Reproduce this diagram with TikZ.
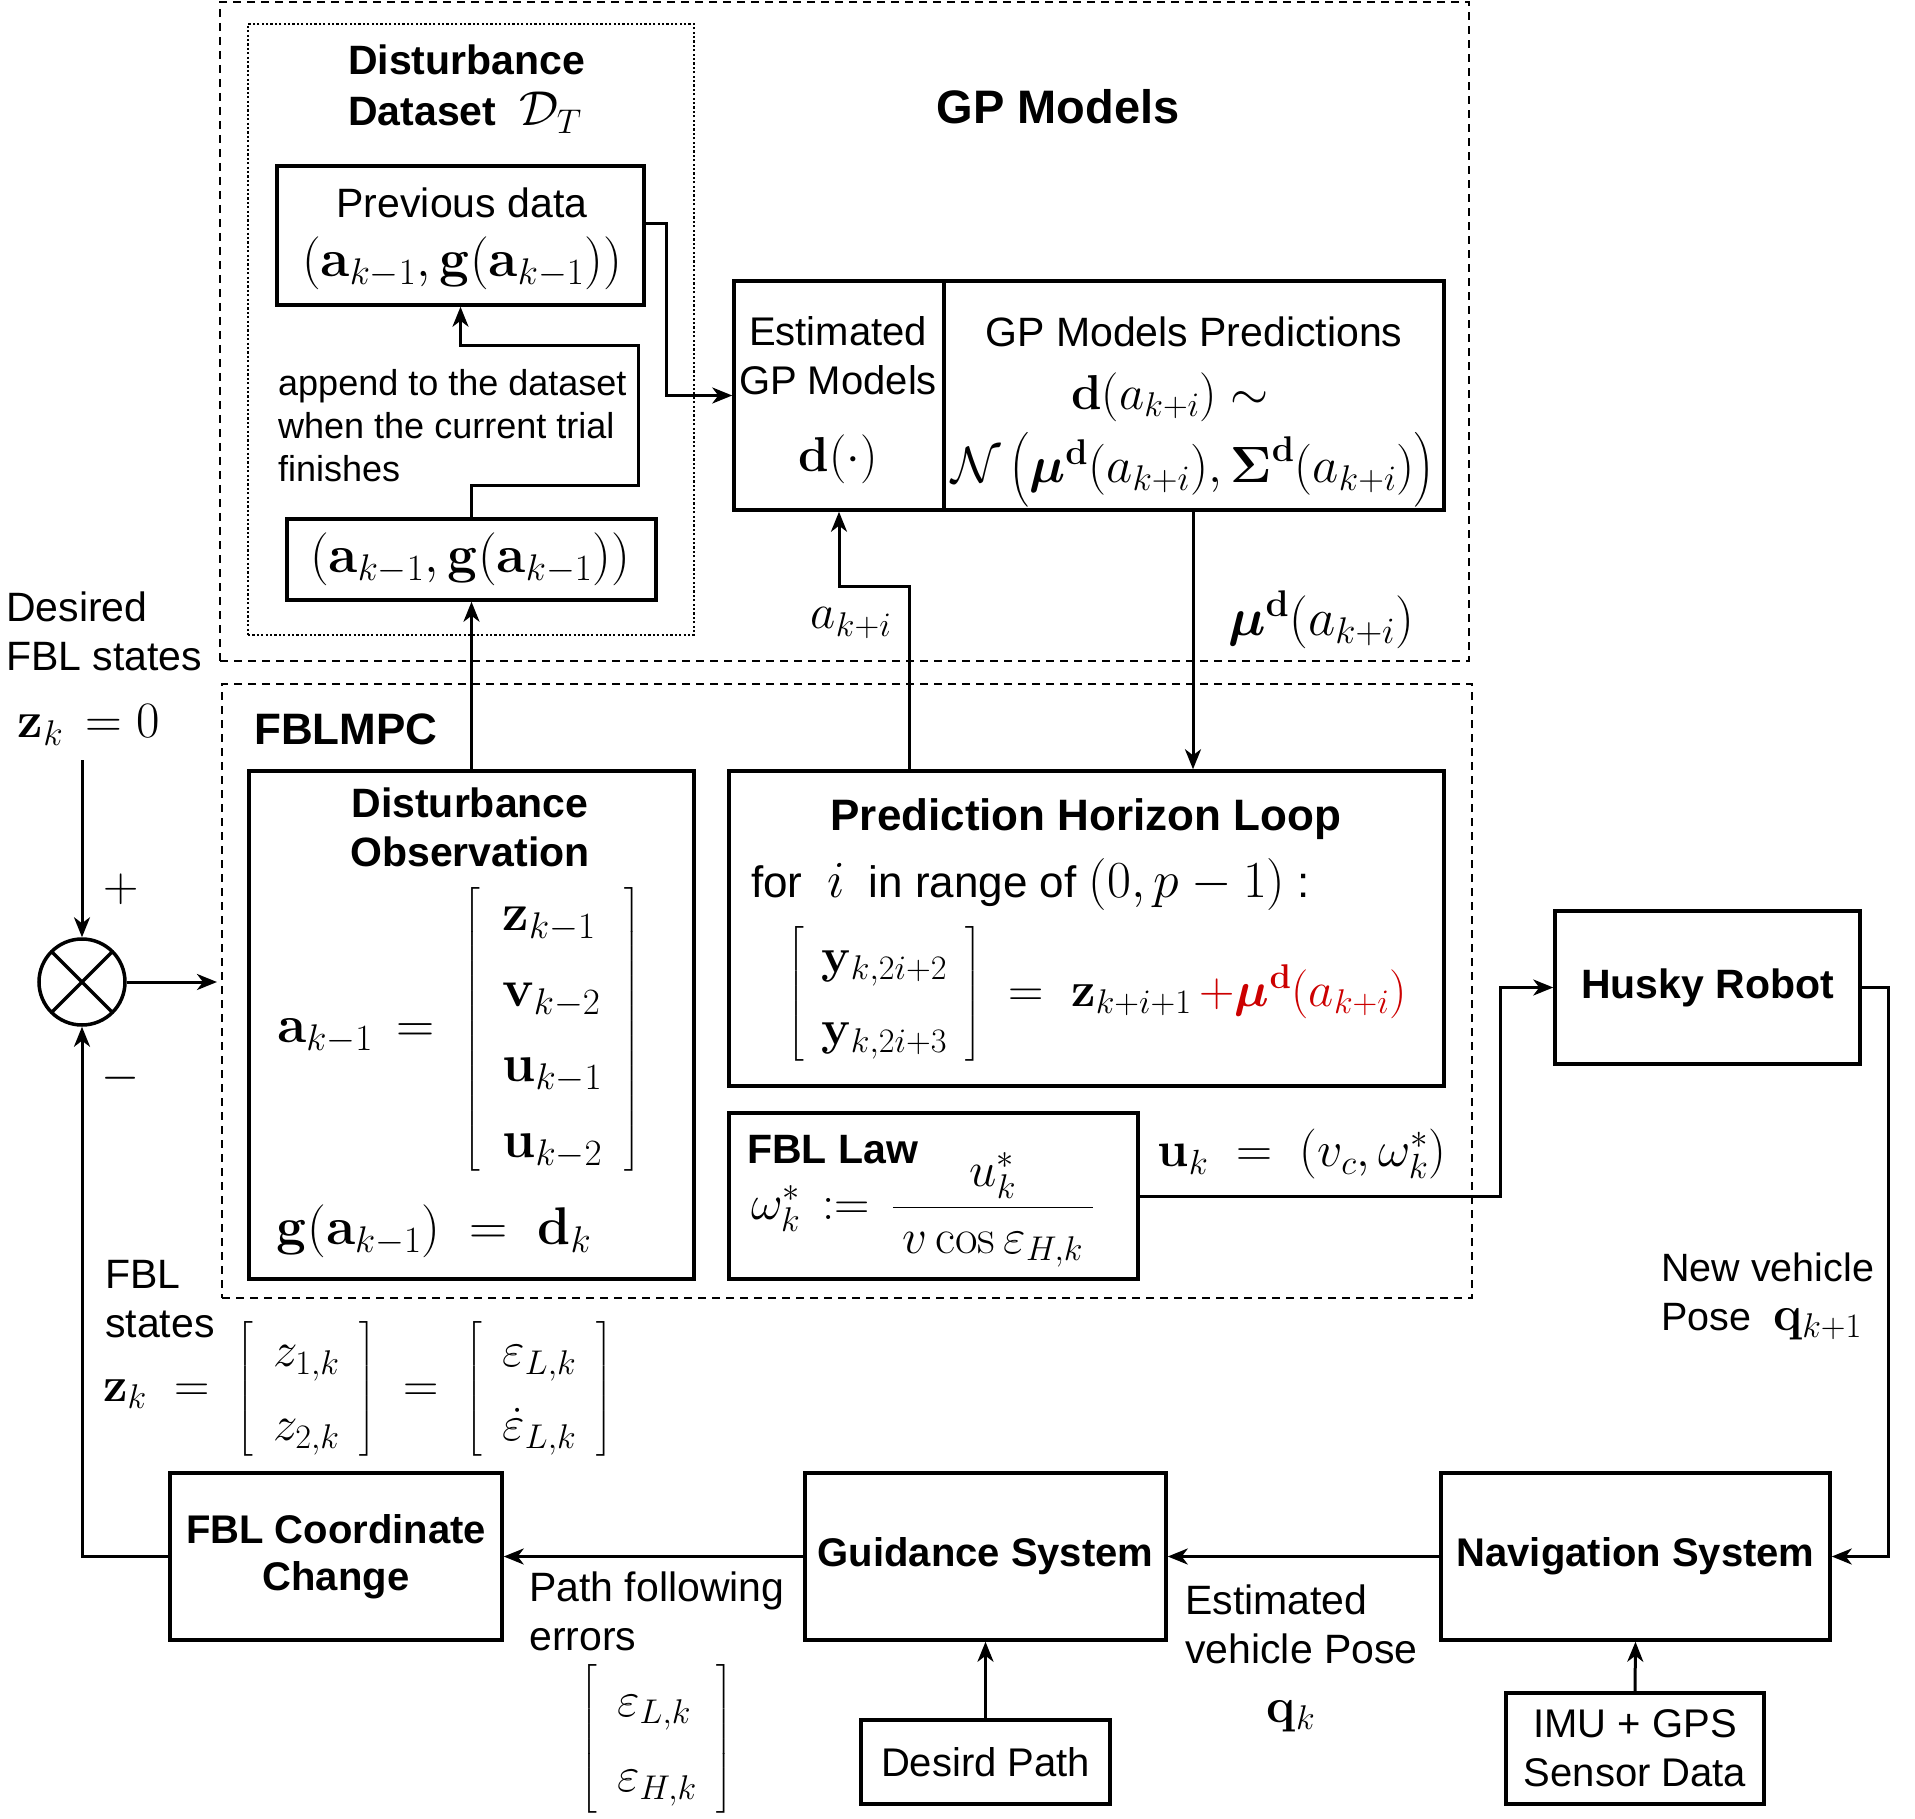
\RequirePackage{fix-cm}
\documentclass[tikz,border=0pt]{standalone}
\usepackage{amsmath}
\usepackage[no-math]{fontspec}
\setmainfont{Liberation Sans}
\usetikzlibrary{arrows.meta}
\definecolor{predred}{RGB}{204,0,0}
\newcommand{\mth}[1]{{\fontsize{49}{58}\selectfont$#1$}}
\newcommand{\mthb}[1]{{\fontsize{52}{62}\selectfont$#1$}}
\begin{document}
\begin{tikzpicture}[x=1pt,y=-1pt,
 bx/.style={draw,line width=3.5pt,inner sep=0pt},
 t41/.style={inner sep=0pt,font=\fontsize{41}{49}\selectfont},
 t40/.style={inner sep=0pt,font=\fontsize{40}{49}\selectfont},
 t39/.style={inner sep=0pt,font=\fontsize{39.5}{49}\selectfont},
 t44/.style={inner sep=0pt,font=\fontsize{44}{52}\selectfont},
 t36/.style={inner sep=0pt,font=\fontsize{36}{43}\selectfont},
 b41/.style={inner sep=0pt,font=\fontsize{41}{49}\selectfont\bfseries},
 b40/.style={inner sep=0pt,font=\fontsize{40}{47}\selectfont\bfseries},
 b44/.style={inner sep=0pt,font=\fontsize{44}{52}\selectfont\bfseries},
 b47/.style={inner sep=0pt,font=\fontsize{47}{56}\selectfont\bfseries},
 m49/.style={inner sep=0pt,font=\fontsize{49}{58}\selectfont},
 m50/.style={inner sep=0pt,font=\fontsize{50}{59}\selectfont},
 m51/.style={inner sep=0pt,font=\fontsize{51}{60}\selectfont},
 m53/.style={inner sep=0pt,font=\fontsize{53}{62}\selectfont},
 dashedbox/.style={draw,line width=2.2pt,dash pattern=on 8pt off 6pt,inner sep=0pt},
 dottedbox/.style={draw,line width=2.2pt,dash pattern=on 2.2pt off 2.2pt,inner sep=0pt},
 ln/.style={line width=3pt},
 arr/.style={-{Stealth[length=20pt,width=16pt,inset=6pt]}},
]
\useasboundingbox (0,0) rectangle (1915,1819);

% group frames
\node[dashedbox,minimum width=1249pt,minimum height=659pt] (gpgrp) at (844.5,331.5) {};
\node[dottedbox,minimum width=446pt,minimum height=611pt] (dsgrp) at (471,329.5) {};
\node[dashedbox,minimum width=1250pt,minimum height=614pt] (mpcgrp) at (847,991) {};

% titles
\node[b41,anchor=base west] (dsttl1) at (348,75) {Disturbance};
\node[b41,anchor=base west] (dsttl2) at (348,126) {Dataset\ \ \mth{\mathcal{D}_T}};
\node[b47] (gpttl) at (1058,107) {GP Models};
\node[b44,anchor=west] (mpcttl) at (254,729) {FBLMPC};

% dataset boxes
\node[bx,minimum width=367pt,minimum height=139pt] (prev) at (460.5,235.5) {};
\node[t41] (prevt) at (462,203) {Previous data};
\node[m53] (prevm) at (462,263) {$(\mathbf{a}_{k-1},\mathbf{g}(\mathbf{a}_{k-1}))$};
\node[bx,minimum width=369pt,minimum height=81pt] (dat2) at (471.5,559.5) {};
\node[m53] (dat2m) at (470,559) {$(\mathbf{a}_{k-1},\mathbf{g}(\mathbf{a}_{k-1}))$};
\node[t36,align=left,anchor=west] (appendt) at (278,426) {append to the dataset\\when the current trial\\finishes};

% GP model boxes
\node[bx,minimum width=210pt,minimum height=229pt] (est) at (839,395.5) {};
\node[t40,align=center] (estt) at (838,356) {Estimated\\GP Models};
\node[m49] (estm) at (838,459) {$\mathbf{d}(\cdot)$};
\node[bx,minimum width=500pt,minimum height=229pt] (pred) at (1194,395.5) {};
\node[t41] (predt) at (1194,332) {GP Models Predictions};
\node[m49] (predm1) at (1170,397) {$\mathbf{d}(a_{k+i})\sim$};
\node[m51] (predm2) at (1193,470) {$\mathcal{N}\left(\boldsymbol{\mu}^{\mathbf{d}}(a_{k+i}),\boldsymbol{\Sigma}^{\mathbf{d}}(a_{k+i})\right)$};

% labels between groups
\node[m49] (aki) at (851,623) {$a_{k+i}$};
\node[m53] (mul) at (1321,620) {$\boldsymbol{\mu}^{\mathbf{d}}(a_{k+i})$};

% Disturbance observation
\node[bx,minimum width=445pt,minimum height=508pt] (dobs) at (471.5,1025) {};
\node[b41,align=center] (dobst) at (470,827) {Disturbance\\Observation};
\node[m53] (dobsm) at (459,1029) {\setlength\arraycolsep{22pt}\setlength\delimitershortfall{40pt}\renewcommand{\arraystretch}{1.22}$\mathbf{a}_{k-1}\,=\;\left[\begin{array}{l}\mathbf{z}_{k-1}\\ \mathbf{v}_{k-2}\\ \mathbf{u}_{k-1}\\ \mathbf{u}_{k-2}\end{array}\right]$};
\node[m53] (dobsg) at (434,1231) {$\mathbf{g}(\mathbf{a}_{k-1})\;=\;\mathbf{d}_k$};

% Prediction horizon loop
\node[bx,minimum width=715pt,minimum height=315pt] (phl) at (1086.5,928.5) {};
\node[b44] (phlt) at (1086,819) {Prediction Horizon Loop};
\node[t44,anchor=base west] (phlfor) at (751,897) {for \ \mthb{i} \ in range of \mthb{(0,p-1)} :};
\node[m49] (phlm) at (1097,994) {\setlength\arraycolsep{18pt}\setlength\delimitershortfall{40pt}\renewcommand{\arraystretch}{1.25}$\left[\begin{array}{l}\mathbf{y}_{k,2i+2}\\ \mathbf{y}_{k,2i+3}\end{array}\right]\;=\;\mathbf{z}_{k+i+1}\,{\color{predred}+\boldsymbol{\mu}^{\mathbf{d}}(a_{k+i})}$};

% FBL law
\node[bx,minimum width=409pt,minimum height=166pt] (fbl) at (933.5,1196) {};
\node[b41,anchor=base west] (fblt) at (747,1163) {FBL Law};
\node[m49,anchor=west] (fblm) at (751,1210) {$\omega_k^*\,\mathrel{:=}\,\dfrac{\makebox[200pt]{$u_k^*$}}{v\cos\varepsilon_{H,k}}$};
\node[m50] (ukl) at (1302,1154) {$\mathbf{u}_k\;=\;(v_c,\omega_k^*)$};

% Husky and lower chain
\node[bx,b41,minimum width=305pt,minimum height=153pt] (husky) at (1707.5,987.5) {Husky Robot};
\node[bx,b40,minimum width=389pt,minimum height=167pt] (nav) at (1635.5,1556.5) {Navigation System};
\node[bx,b40,minimum width=361pt,minimum height=167pt] (guid) at (985.5,1556.5) {Guidance System};
\node[bx,b40,align=center,minimum width=332pt,minimum height=167pt] (fblc) at (336,1556.5) {FBL Coordinate\\Change};
\node[bx,t40,align=center,minimum width=258pt,minimum height=111pt] (imu) at (1635,1748.5) {IMU + GPS\\Sensor Data};
\node[bx,t40,minimum width=249pt,minimum height=84pt] (path) at (985.5,1762) {Desird Path};

% side labels
\node[t39,align=left,anchor=west] (newpose) at (1661,1296) {New vehicle\\Pose \ \mth{\mathbf{q}_{k+1}}};
\node[t41,align=left,anchor=west] (estpose) at (1185,1624.5) {Estimated\\vehicle Pose};
\node[m49] (qk) at (1291,1716) {$\mathbf{q}_k$};
\node[t41,align=left,anchor=west] (pfe) at (529,1611) {Path following\\errors};
\node[m49] (pfem) at (657,1739) {\setlength\arraycolsep{20pt}\setlength\delimitershortfall{40pt}\renewcommand{\arraystretch}{1.3}$\left[\begin{array}{l}\varepsilon_{L,k}\\ \varepsilon_{H,k}\end{array}\right]$};
\node[t41,align=left,anchor=west] (fblst) at (105,1299.5) {FBL\\states};
\node[m49] (zeq) at (358,1389) {\setlength\arraycolsep{20pt}\setlength\delimitershortfall{40pt}\renewcommand{\arraystretch}{1.28}$\mathbf{z}_k\;=\;\left[\begin{array}{l}z_{1,k}\\ z_{2,k}\end{array}\right]\;=\;\left[\begin{array}{l}\varepsilon_{L,k}\\ \dot{\varepsilon}_{L,k}\end{array}\right]$};
\node[t41,align=left,anchor=west] (desst) at (6,631.5) {Desired\\FBL states};
\node[m51] (zk0) at (89,725) {$\mathbf{z}_k\,=0$};
\node[m49] (plus) at (121,889) {$+$};
\node[m49] (minus) at (121,1078) {$-$};

% summing junction
\node[circle,draw,line width=3.5pt,minimum size=86pt,inner sep=0pt] (sum) at (82,982) {};
\draw[line width=3.5pt,shorten <=1.5pt,shorten >=1.5pt] (sum.north west) -- (sum.south east);
\draw[line width=3.5pt,shorten <=1.5pt,shorten >=1.5pt] (sum.north east) -- (sum.south west);

% connectors
\coordinate (j1) at (638,485);
\coordinate (j2) at (638,346);
\draw[ln,arr] (dat2.north) |- (j1) -- (j2) -| (prev.south);
\coordinate (j3) at (666,224);
\draw[ln,arr] (prev.east |- j3) -- (j3) |- (est.west);
\draw[ln,arr] (dobs.north) -- (dat2.south);
\coordinate (j4) at (909,586);
\draw[ln,arr] (phl.north -| j4) -- (j4) -| (est.south);
\coordinate (j5) at (1193,600);
\draw[ln,arr] (pred.south -| j5) -- (phl.north -| j5);
\coordinate (j6) at (1500,1196);
\draw[ln,arr] (fbl.east |- j6) -- (j6) |- (husky.west);
\coordinate (j7) at (1888,987.5);
\draw[ln,arr] (husky.east) -- (j7) |- (nav.east);
\draw[ln,arr] (nav.west) -- (guid.east);
\draw[ln,arr] (guid.west) -- (fblc.east);
\draw[ln,arr] (path.north) -- (guid.south);
\draw[ln,arr] (imu.north) -- (nav.south);
\draw[ln,arr] (fblc.west) -| (sum.south);
\coordinate (j8) at (82,760);
\draw[ln,arr] (j8) -- (sum.north);
\coordinate (j9) at (217,982);
\draw[ln,arr] (sum.east) -- (j9);
\end{tikzpicture}
\end{document}
